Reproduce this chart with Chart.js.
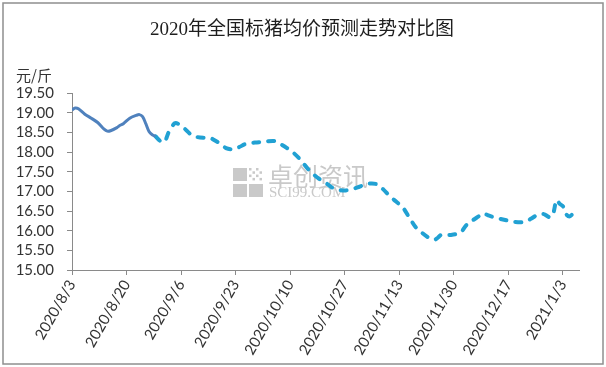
<!DOCTYPE html>
<html>
<head>
<meta charset="utf-8">
<script src="https://cdn.jsdelivr.net/npm/chart.js@4"></script>
<style>
  body { margin: 0; background: #fff; }
  #wrap { width: 606px; height: 367px; }
</style>
</head>
<body>
<div id="wrap"><canvas id="priceChart" width="606" height="367"></canvas></div>
<script>
const TITLE = '2020年全国标猪均价预测走势对比图';
const UNIT = '元/斤';

// actual prices (solid line)
const actualDates = ['2020/8/3', '2020/8/4', '2020/8/5', '2020/8/7', '2020/8/9', '2020/8/11', '2020/8/13',
  '2020/8/14', '2020/8/15', '2020/8/17', '2020/8/18', '2020/8/19', '2020/8/21', '2020/8/23',
  '2020/8/24', '2020/8/25', '2020/8/26', '2020/8/27', '2020/8/28', '2020/8/29'];
const actualValues = [19.07, 19.12, 19.10, 18.96, 18.86, 18.75, 18.58,
  18.53, 18.54, 18.62, 18.68, 18.72, 18.86, 18.93,
  18.95, 18.90, 18.72, 18.52, 18.44, 18.40];

// forecast prices (dashed line)
const forecastDates = ['2020/8/29', '2020/8/31', '2020/9/1', '2020/9/2', '2020/9/3', '2020/9/4', '2020/9/5',
  '2020/9/7', '2020/9/9', '2020/9/11', '2020/9/13', '2020/9/15', '2020/9/16', '2020/9/18',
  '2020/9/20', '2020/9/22', '2020/9/24', '2020/9/26', '2020/9/29', '2020/10/2', '2020/10/5',
  '2020/10/7', '2020/10/9', '2020/10/11', '2020/10/13', '2020/10/15', '2020/10/17', '2020/10/19',
  '2020/10/21', '2020/10/23', '2020/10/25', '2020/10/27', '2020/10/29', '2020/10/31', '2020/11/2',
  '2020/11/4', '2020/11/6', '2020/11/8', '2020/11/10', '2020/11/12', '2020/11/14', '2020/11/16',
  '2020/11/18', '2020/11/20', '2020/11/22', '2020/11/24', '2020/11/25', '2020/11/26', '2020/11/29',
  '2020/12/2', '2020/12/4', '2020/12/6', '2020/12/8', '2020/12/9', '2020/12/11', '2020/12/13',
  '2020/12/16', '2020/12/19', '2020/12/22', '2020/12/24', '2020/12/26', '2020/12/28', '2020/12/30',
  '2020/12/31', '2021/1/1', '2021/1/2', '2021/1/3', '2021/1/4', '2021/1/5', '2021/1/6', '2021/1/7'];
const forecastValues = [18.40, 18.25, 18.28, 18.48, 18.62, 18.73, 18.72,
  18.60, 18.45, 18.38, 18.36, 18.36, 18.32, 18.22,
  18.10, 18.07, 18.12, 18.20, 18.24, 18.26, 18.28,
  18.20, 18.10, 17.98, 17.82, 17.62, 17.45, 17.32,
  17.22, 17.10, 17.04, 17.02, 17.05, 17.10, 17.16,
  17.20, 17.18, 17.05, 16.88, 16.74, 16.60, 16.35,
  16.10, 15.95, 15.83, 15.77, 15.82, 15.89, 15.89,
  15.95, 16.15, 16.27, 16.38, 16.44, 16.38, 16.33,
  16.27, 16.22, 16.22, 16.30, 16.40, 16.42, 16.34,
  16.45, 16.78, 16.68, 16.62, 16.42, 16.36, 16.42, 16.47];

const FIRST_DAY = '2020/8/3';
const LAST_DAY = '2021/1/8';
const TICK_STEP = 17;

function toUTC(s) {
  const [y, m, d] = s.split('/').map(Number);
  return Date.UTC(y, m - 1, d);
}
function dayOf(s) {
  return (toUTC(s) - toUTC(FIRST_DAY)) / 86400000;
}
function dayLabel(n) {
  const d = new Date(toUTC(FIRST_DAY) + n * 86400000);
  return d.getUTCFullYear() + '/' + (d.getUTCMonth() + 1) + '/' + d.getUTCDate();
}
function points(dates, values) {
  return dates.map((s, i) => ({ x: dayOf(s), y: values[i] }));
}

const AXIS_COLOR = '#8a8a8a';
const TEXT_COLOR = '#333333';

// frame, title, unit label and watermark
const decor = {
  id: 'decor',
  beforeDraw(chart) {
    const c = chart.ctx;
    c.save();
    c.fillStyle = '#fff';
    c.fillRect(0, 0, chart.width, chart.height);
    c.strokeStyle = '#8f8f8f';
    c.lineWidth = 1.5;
    c.strokeRect(3, 3, chart.width - 6, chart.height - 6);
    c.fillStyle = '#1e1e1e';
    c.font = '19px "Liberation Serif", "Noto Sans CJK SC"';
    c.textAlign = 'center';
    c.textBaseline = 'middle';
    c.fillText(TITLE, 302, 30);
    c.fillStyle = TEXT_COLOR;
    c.textAlign = 'left';
    c.font = '15px "Noto Sans CJK SC"';
    c.fillText(UNIT, 16, 75);
    c.restore();
  },
  beforeDatasetsDraw(chart) {
    const c = chart.ctx;
    c.save();
    c.fillStyle = '#c9c9c9';
    c.fillRect(233, 168, 14, 13);
    c.fillRect(233, 184, 14, 13);
    c.fillRect(249, 184, 14, 13);
    for (let i = 0; i < 4; i++) {
      for (let j = 0; j < 4; j++) {
        if ((i + j) % 2 === 0) c.fillRect(249 + i * 3.5, 168 + j * 3.3, 2.5, 2.5);
      }
    }
    c.textBaseline = 'middle';
    c.font = '25px "Noto Sans CJK SC"';
    c.fillText('卓创资讯', 268, 176);
    c.font = '15px "Liberation Serif"';
    c.fillText('SCI99.COM', 269, 193);
    c.restore();
  }
};

const ctx = document.getElementById('priceChart').getContext('2d');
const priceChart = new Chart(ctx, {
  type: 'line',
  data: {
    datasets: [{
      label: '实际',
      data: points(actualDates, actualValues),
      borderColor: '#4f81bd',
      borderWidth: 3,
      tension: 0.3,
      pointRadius: 0,
      fill: false
    }, {
      label: '预测',
      data: points(forecastDates, forecastValues),
      borderColor: '#21a1d3',
      borderWidth: 4,
      borderDash: [6, 9],
      borderCapStyle: 'round',
      tension: 0.3,
      pointRadius: 0,
      fill: false
    }]
  },
  options: {
    responsive: false,
    animation: false,
    layout: { padding: { left: 0, right: 27, top: 93, bottom: 0 } },
    plugins: {
      legend: { display: false },
      tooltip: { enabled: false },
      title: { display: false }
    },
    scales: {
      x: {
        type: 'linear',
        min: 0,
        max: dayOf(LAST_DAY),
        afterFit(scale) { scale.height = 97; },
        grid: { drawOnChartArea: false, drawTicks: true, tickLength: 5, color: AXIS_COLOR },
        border: { color: AXIS_COLOR },
        ticks: {
          stepSize: TICK_STEP,
          includeBounds: false,
          autoSkip: false,
          maxRotation: 60,
          minRotation: 60,
          padding: 2,
          color: TEXT_COLOR,
          font: { family: 'Lato', size: 15 },
          callback: v => dayLabel(v)
        }
      },
      y: {
        min: 15,
        max: 19.5,
        afterFit(scale) { scale.width = 72; },
        grid: { drawOnChartArea: false, drawTicks: true, tickLength: 5, color: AXIS_COLOR },
        border: { color: AXIS_COLOR },
        ticks: {
          stepSize: 0.5,
          autoSkip: false,
          padding: 13,
          color: TEXT_COLOR,
          font: { family: 'Lato', size: 15 },
          callback: v => v.toFixed(2)
        }
      }
    }
  },
  plugins: [decor]
});
</script>
</body>
</html>
